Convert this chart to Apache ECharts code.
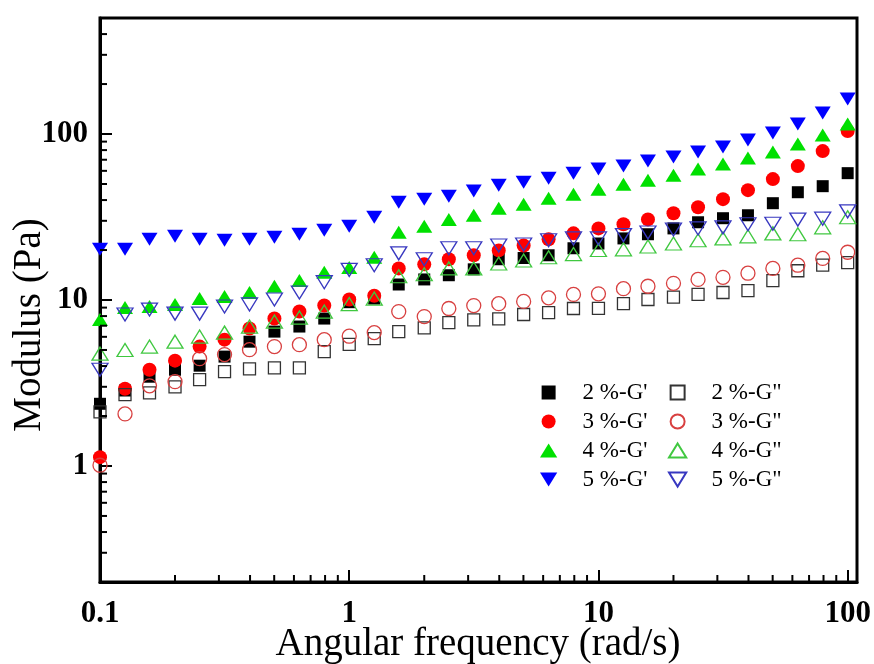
<!DOCTYPE html>
<html>
<head>
<meta charset="utf-8">
<script src="https://cdn.jsdelivr.net/npm/echarts@6/dist/echarts.min.js"></script>
<style>
html,body{margin:0;padding:0;background:#fff;}
#chart{width:874px;height:664px;}
</style>
</head>
<body>
<div id="chart"></div>
<script>
// Angular frequency (rad/s)
const freq = [0.1, 0.126, 0.158, 0.2, 0.251, 0.316, 0.398, 0.501, 0.631, 0.794,
  1, 1.26, 1.58, 2, 2.51, 3.16, 3.98, 5.01, 6.31, 7.94,
  10, 12.6, 15.8, 20, 25.1, 31.6, 39.8, 50.1, 63.1, 79.4, 100];

// Storage modulus G' (Pa)
const g2p = [2.37, 2.85, 3.45, 3.80, 4.02, 4.56, 5.61, 6.45, 6.92, 7.73, 9.7, 10.2, 12.4, 13.3, 14.1, 15.3, 17.6, 17.9, 18.6, 20.5, 21.9, 23.5, 24.9, 27.0, 29.4, 31.1, 32.4, 38.3, 44.6, 48.5, 58.1];
const g3p = [1.13, 2.92, 3.80, 4.31, 5.24, 5.77, 6.73, 7.73, 8.52, 9.26, 10.07, 10.6, 15.5, 16.4, 17.6, 18.6, 19.9, 21.3, 23.2, 25.2, 27.0, 28.6, 30.6, 33.3, 36.2, 40.5, 45.9, 53.5, 64.1, 78.9, 104.2];
const g4p = [7.63, 9.01, 9.14, 9.40, 10.2, 10.5, 11.1, 12.1, 13.1, 14.7, 15.7, 18.1, 25.6, 27.8, 30.6, 32.4, 35.7, 37.8, 41.0, 43.4, 46.5, 49.9, 52.7, 56.5, 61.5, 65.9, 71.6, 77.8, 87.0, 98.6, 114.9];
const g5p = [20.2, 20.2, 23.2, 24.2, 23.2, 22.9, 23.2, 23.9, 24.9, 26.3, 27.8, 31.5, 38.8, 40.5, 42.2, 45.3, 49.2, 51.3, 54.2, 58.1, 61.5, 64.1, 68.7, 72.6, 77.8, 83.4, 92.0, 101.4, 114.9, 133.9, 162.7];

// Loss modulus G'' (Pa)
const g2pp = [2.12, 2.69, 2.76, 3.0, 3.31, 3.70, 3.85, 3.9, 3.9, 4.88, 5.40, 5.85, 6.45, 6.8, 7.3, 7.6, 7.7, 8.18, 8.4, 8.89, 8.9, 9.5, 10.07, 10.4, 10.8, 11.1, 11.4, 13.1, 15.0, 16.2, 16.8];
const g3pp = [1.01, 2.06, 3.04, 3.22, 4.43, 4.69, 5.02, 5.24, 5.38, 5.77, 6.05, 6.36, 8.52, 7.95, 8.89, 9.26, 9.5, 9.8, 10.3, 10.8, 10.9, 11.7, 12.1, 12.6, 13.3, 13.7, 14.5, 15.5, 16.2, 17.8, 19.4];
const g4pp = [4.75, 5.0, 5.24, 5.61, 6.02, 6.36, 6.92, 7.41, 7.84, 8.52, 9.45, 10.2, 13.9, 14.3, 15.5, 15.5, 16.6, 17.3, 18.1, 18.9, 20.0, 20.2, 21.0, 21.9, 22.9, 23.5, 24.2, 25.2, 24.9, 27.4, 31.5];
const g5pp = [3.80, 8.18, 8.76, 8.28, 8.28, 9.14, 9.40, 10.07, 11.1, 12.8, 15.2, 16.2, 19.1, 17.6, 20.5, 20.5, 21.3, 21.6, 22.9, 23.5, 23.5, 24.6, 25.5, 26.6, 27.0, 27.4, 28.6, 28.8, 30.5, 30.9, 34.2];

const namesGp = ["2 %-G'", "3 %-G'", "4 %-G'", "5 %-G'"];
const namesGpp = ['2 %-G"', '3 %-G"', '4 %-G"', '5 %-G"'];

// Axis ranges and minor tick values
const X_MIN = 0.1, X_MAX = 109;
const Y_MIN = 0.2, Y_MAX = 500;
const xMinorTicks = [0.2, 0.3, 0.4, 0.5, 0.6, 0.7, 0.8, 0.9, 2, 3, 4, 5, 6, 7, 8, 9, 20, 30, 40, 50, 60, 70, 80, 90];
const yMinorTicks = [0.3, 0.4, 0.5, 0.6, 0.7, 0.8, 0.9, 2, 3, 4, 5, 6, 7, 8, 9, 20, 30, 40, 50, 60, 70, 80, 90, 200, 300, 400];

const FONT = "'Liberation Serif', 'Times New Roman', serif";
const SQUARE = 'path://M0,0L10,0L10,10L0,10Z';
const UP_TRI = 'path://M8,0L16,13L0,13Z';
const DOWN_TRI = 'path://M0,0L16,0L8,13Z';

function pairs(ys) { return freq.map((x, i) => [x, ys[i]]); }

function isDecade(v) {
  const l = Math.log10(v);
  return Math.abs(l - Math.round(l)) < 1e-6;
}

function filled(name, ys, symbol, size, color) {
  return {
    type: 'scatter', name, data: pairs(ys), symbol, symbolSize: size,
    itemStyle: { color, opacity: 1 }, z: 3, silent: true,
    emphasis: { disabled: true }
  };
}
function hollow(name, ys, symbol, size, color) {
  return {
    type: 'scatter', name, data: pairs(ys), symbol, symbolSize: size,
    itemStyle: { color: 'rgba(255,255,255,0)', borderColor: color, borderWidth: 1.3, opacity: 1 }, z: 4, silent: true,
    emphasis: { disabled: true }
  };
}

const chart = echarts.init(document.getElementById('chart'), null, { renderer: 'canvas' });

const legendCommon = {
  orient: 'vertical', itemWidth: 58, itemHeight: 14, itemGap: 6,
  symbolKeepAspect: true,
  textStyle: { fontFamily: FONT, fontSize: 23, color: '#000' },
  selectedMode: false, top: 376
};

const option = {
  animation: false,
  backgroundColor: '#fff',
  grid: { left: 100, right: 17, top: 18, bottom: 82, show: true, borderColor: '#000', borderWidth: 3, containLabel: false, outerBoundsMode: 'none' },
  xAxis: {
    type: 'log', logBase: 10, min: X_MIN, max: X_MAX,
    axisLine: { lineStyle: { color: '#000', width: 3 } },
    axisTick: { inside: true, length: 12, lineStyle: { color: '#000', width: 2 } },
    splitLine: { show: false },
    axisLabel: {
      margin: 16, fontFamily: FONT, fontSize: 31, fontWeight: 'bold', color: '#000',
      formatter: v => isDecade(v) ? String(Math.round(v * 10) / 10) : ''
    }
  },
  yAxis: {
    type: 'log', logBase: 10, min: Y_MIN, max: Y_MAX,
    axisLine: { lineStyle: { color: '#000', width: 3 } },
    axisTick: { inside: true, length: 12, lineStyle: { color: '#000', width: 2 } },
    splitLine: { show: false },
    axisLabel: {
      margin: 12, fontFamily: FONT, fontSize: 31, fontWeight: 'bold', color: '#000',
      formatter: v => isDecade(v) ? String(Math.round(v)) : ''
    }
  },
  graphic: [{
    type: 'text',
    x: 30, y: 325, rotation: Math.PI / 2,
    style: { text: 'Modulus (Pa)', font: "39px 'Liberation Serif', serif", fill: '#000', textAlign: 'center', textVerticalAlign: 'middle' }
  }, {
    type: 'text',
    x: 478, y: 645,
    style: { text: 'Angular frequency (rad/s)', font: "39px 'Liberation Serif', serif", fill: '#000', textAlign: 'center', textVerticalAlign: 'middle' }
  }],
  legend: [
    Object.assign({}, legendCommon, { left: 535, data: namesGp }),
    Object.assign({}, legendCommon, { left: 663, data: namesGpp })
  ],
  series: [
    filled(namesGp[0], g2p, SQUARE, 12, '#000000'),
    filled(namesGp[1], g3p, 'circle', 14, '#ff0000'),
    filled(namesGp[2], g4p, UP_TRI, [16, 13], '#00e000'),
    filled(namesGp[3], g5p, DOWN_TRI, [16, 13], '#0000ff'),
    hollow(namesGpp[0], g2pp, SQUARE, 12, '#333333'),
    hollow(namesGpp[1], g3pp, 'circle', 14, '#d84040'),
    hollow(namesGpp[2], g4pp, UP_TRI, [16, 13], '#40c840'),
    hollow(namesGpp[3], g5pp, DOWN_TRI, [16, 13], '#3838c0'),
    {
      type: 'custom', silent: true, z: 5,
      data: xMinorTicks.map(v => [v, Y_MIN]),
      renderItem: (params, api) => {
        const cs = params.coordSys;
        const px = api.coord([api.value(0), Y_MIN])[0];
        const yb = cs.y + cs.height;
        return { type: 'line', shape: { x1: px, y1: yb, x2: px, y2: yb - 7 }, style: { stroke: '#000', lineWidth: 2 } };
      }
    },
    {
      type: 'custom', silent: true, z: 5,
      data: yMinorTicks.map(v => [X_MIN, v]),
      renderItem: (params, api) => {
        const cs = params.coordSys;
        const py = api.coord([X_MIN, api.value(1)])[1];
        return { type: 'line', shape: { x1: cs.x, y1: py, x2: cs.x + 7, y2: py }, style: { stroke: '#000', lineWidth: 2 } };
      }
    }
  ]
};
chart.setOption(option);
</script>
</body>
</html>
